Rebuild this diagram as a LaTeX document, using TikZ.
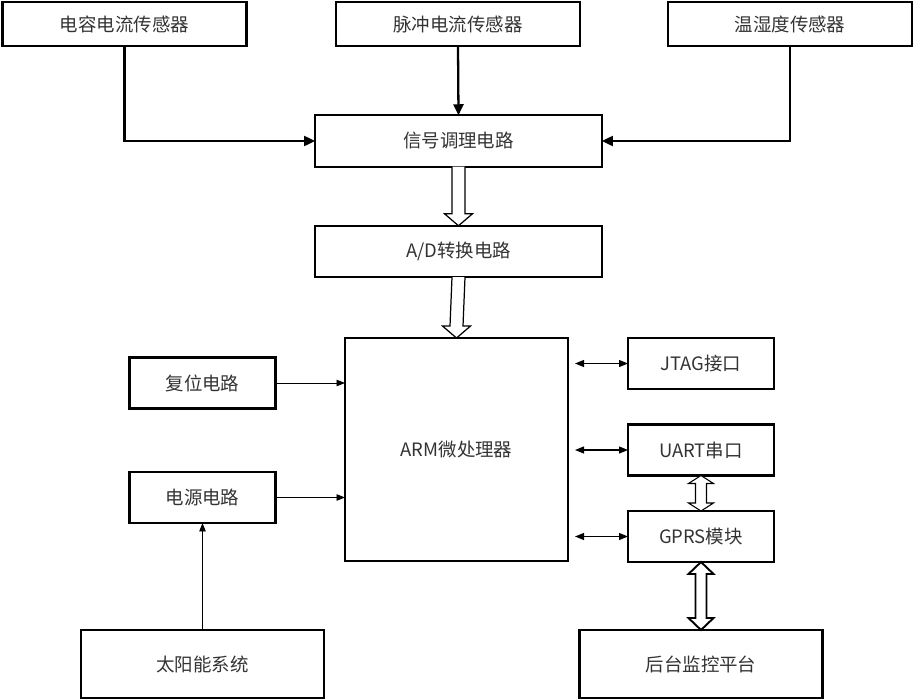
\documentclass[tikz,border=0pt]{standalone}
\usepackage{fontspec}
\setmainfont{Noto Sans CJK SC}
\usetikzlibrary{calc,arrows.meta}

% hollow arrow between two stacked nodes (pixel units)
\newcommand{\hollowdown}[2]{%
  \draw[hollow] ($(#1.south)+(-6.5,0)$) -- ($(#2.north)+(-6.5,-12)$) -- ($(#2.north)+(-14,-12)$)
     -- (#2.north) -- ($(#2.north)+(14,-12)$) -- ($(#2.north)+(6.5,-12)$) -- ($(#1.south)+(6.5,0)$);}
\newcommand{\hollowboth}[4]{% from, to, head length, line width
  \draw[hollow, line width=#4] (#1.south) -- ($(#1.south)+(12.5,#3)$) -- ($(#1.south)+(5.5,#3)$)
     -- ($(#2.north)+(5.5,-#3)$) -- ($(#2.north)+(12.5,-#3)$) -- (#2.north) -- ($(#2.north)+(-12.5,-#3)$)
     -- ($(#2.north)+(-5.5,-#3)$) -- ($(#1.south)+(-5.5,#3)$) -- ($(#1.south)+(-12.5,#3)$) -- cycle;}

\begin{document}
\begin{tikzpicture}[
        x=0.02cm, y=-0.02cm,
        font=\fontsize{10.5}{12}\selectfont,
        box/.style={draw, line width=1.2pt, inner sep=0pt, outer sep=0pt, text=black!80},
        wide/.style={box, minimum width=4.88cm, minimum height=0.88cm},
        mid/.style={box, minimum width=5.74cm, minimum height=1.03cm},
        small/.style={box, minimum width=2.92cm, minimum height=1.02cm},
        low/.style={box, minimum width=4.86cm, minimum height=1.36cm},
        feed/.style={line width=1.3pt, -{Triangle[length=2.2mm, width=2mm]}},
        thin/.style={line width=0.5pt, -{Triangle[length=1.7mm, width=1.3mm]}},
        both/.style={line width=0.6pt, {Triangle[length=1.8mm, width=1.4mm]}-{Triangle[length=1.8mm, width=1.4mm]}},
        hollow/.style={line width=0.7pt, fill=white}
    ]
\useasboundingbox (0,0) rectangle (914,700);

% --- sensors ---
        \node[wide] (cap)   at (124.5,24) {电容电流传感器};
        \node[wide] (pulse) at (458,24)   {脉冲电流传感器};
        \node[wide] (hum)   at (790,24)   {温湿度传感器};

% --- conditioning and A/D ---
        \node[mid] (sig) at (458.5,141)   {信号调理电路};
        \node[mid] (ad)  at (458.5,251.5) {A/D转换电路};

% --- processor ---
        \node[box, minimum width=4.46cm, minimum height=4.46cm] (arm) at (456.5,449.5) {ARM微处理器};

% --- left side ---
        \node[small] (rst) at (202.5,383)   {复位电路};
        \node[small] (pwr) at (202.5,497.5) {电源电路};
        \node[low] (solar) at (202.5,664)   {太阳能系统};

% --- right side ---
        \node[small] (jtag) at (701,363.5) {JTAG接口};
        \node[small] (uart) at (701,450)   {UART串口};
        \node[small] (gprs) at (701,536.5) {GPRS模块};
        \node[low] (host)   at (701,664)   {后台监控平台};

% --- connectors ---
        \draw[feed] (cap.south) |- (sig.west);
        \draw[feed] (pulse.south) -- (sig.north);
        \draw[feed] (hum.south) |- (sig.east);

        \hollowdown{sig}{ad}
        \hollowdown{ad}{arm}

        \draw[thin] (rst.east) -- (rst.east -| arm.west);
        \draw[thin] (pwr.east) -- (pwr.east -| arm.west);
        \draw[thin] (solar.north) -- (pwr.south);

        \draw[both, shorten <=4pt] ($(arm.east)!(jtag.west)!(arm.north east)$) -- (jtag.west);
        \draw[both, shorten <=4pt] ($(arm.east)!(uart.west)!(arm.north east)$) -- (uart.west);
        \draw[both, shorten <=4pt] ($(arm.east)!(gprs.west)!(arm.south east)$) -- (gprs.west);

        \hollowboth{uart}{gprs}{8}{0.6pt}
        \hollowboth{gprs}{host}{12}{1.1pt}

    \end{tikzpicture}
\end{document}
